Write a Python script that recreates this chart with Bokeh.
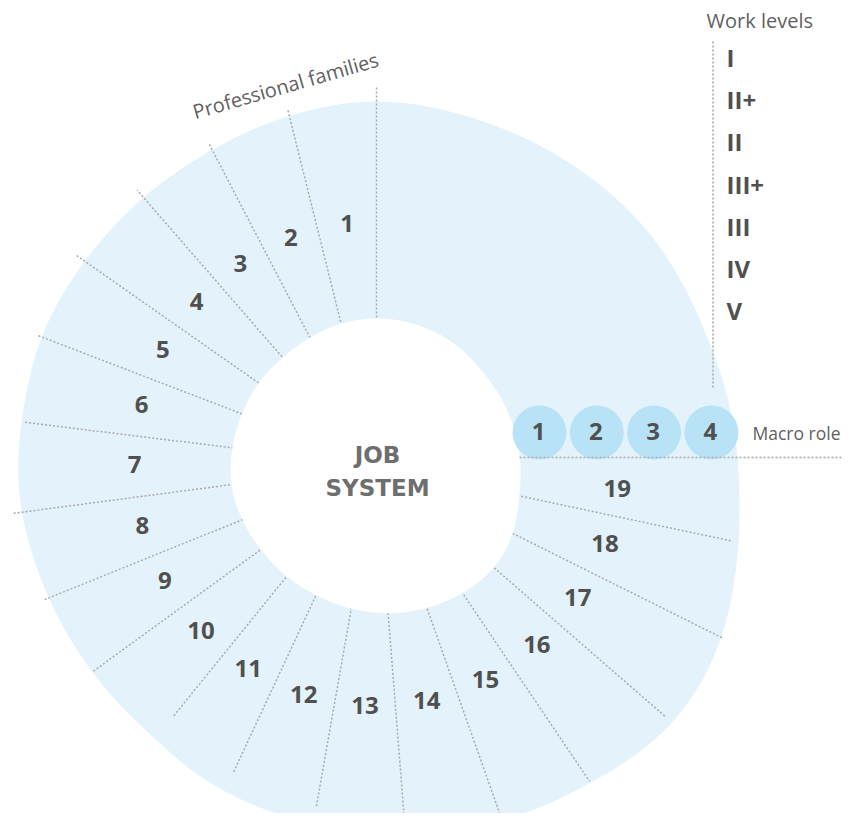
import numpy as np
from bokeh.plotting import figure
from bokeh.models import Range1d
from bokeh.core.properties import value
from bokeh.embed import file_html
from bokeh.resources import INLINE

# ---- data ----
families = [str(i) for i in range(1, 20)]
boundary_angles = [90, 104, 117.5, 131, 145, 159, 173, 187.5, 202, 216,
                   231, 245, 260, 274.5, 289.5, 304, 319, 333.5, 348]
boundary_lengths = [380, 368, 362, 365, 367, 363, 355, 368, 358, 352,
                    322, 338, 347, 356, 384, 381, 384, 386, 362]
macro_roles = ["1", "2", "3", "4"]
work_levels = ["I", "II+", "II", "III+", "III", "IV", "V"]

# ---- layout ----
CX, CY = 376, 465
LABEL_R = 242

outer_keys = [(11, 357.5), (20.7, 354), (31.3, 356), (40.9, 358.7), (55.3, 358.7),
              (73.2, 360), (90, 365), (96.8, 362.6), (107.5, 359), (118.4, 355),
              (131.7, 355), (145, 356), (157.9, 359), (171.6, 357), (182.4, 359),
              (202.5, 353), (216.3, 351), (229.9, 350.5), (240.6, 358), (252.4, 362),
              (257.9, 363), (273.8, 363.8), (284, 373), (294.5, 379), (303.6, 381.6),
              (312.8, 390), (322.1, 393), (333, 386), (347.2, 370), (357.6, 362)]
inner_keys = [(19.7, 142), (40.7, 141), (59.4, 145), (80.6, 147), (89.6, 147),
              (104.2, 146.5), (117.3, 144), (130.7, 142.5), (143.8, 143.8), (157.5, 144),
              (172.9, 145), (185.9, 146.8), (200, 145), (215.6, 142.6), (230.4, 142.8),
              (243.8, 142.7), (258.5, 145), (274.3, 148.4), (289.8, 151), (304.4, 154),
              (319.9, 156), (330.8, 153.6), (346, 146), (359, 144)]


def blob(keys, smooth=12):
    a = np.array([k[0] for k in keys])
    r = np.array([k[1] for k in keys])
    th = np.arange(0, 360, 0.5)
    rr = np.interp(th, a, r, period=360)
    w = int(smooth / 0.5)
    ker = np.ones(w) / w
    ext = np.concatenate([rr[-w:], rr, rr[:w]])
    rs = np.convolve(ext, ker, mode="same")[w:-w]
    t = np.radians(th)
    return CX + rs * np.cos(t), CY - rs * np.sin(t)


def polar(r, ang):
    t = np.radians(ang)
    return CX + r * np.cos(t), CY - r * np.sin(t)


DOT = dict(line_color="#a9a9a9", line_width=1.5, line_dash="2 2")

p = figure(width=843, height=813, x_range=Range1d(0, 843), y_range=Range1d(813, 0),
           output_backend="svg", toolbar_location=None, min_border=0)
p.axis.visible = False
p.grid.visible = False
p.outline_line_color = None
p.background_fill_color = "white"

# outer blob
ox, oy = blob(outer_keys)
p.patch(ox, oy, fill_color="#e4f3fb", line_color=None)

# radial dotted lines
xs, ys = [], []
for ang, ln in zip(boundary_angles, boundary_lengths):
    x1, y1 = polar(60, ang)
    x2, y2 = polar(ln, ang)
    xs.append([float(x1), float(x2)])
    ys.append([float(y1), float(y2)])
p.multi_line(xs, ys, **DOT)

# inner blob
ix, iy = blob(inner_keys, smooth=16)
p.patch(ix, iy, fill_color="white", line_color=None)

# family labels
mids = []
ext_angles = boundary_angles + [360]
for i in range(len(families)):
    mids.append((ext_angles[i] + ext_angles[i + 1]) / 2)
lx, ly = polar(LABEL_R, np.array(mids))
p.text(lx, ly - 2, text=families, text_align="center", text_baseline="middle",
       text_font=value("Open Sans"), text_font_style="bold", text_font_size="24px",
       text_color="#505050")

# macro role circles
mx = 539 + 57.3 * np.arange(len(macro_roles))
my = np.full(len(macro_roles), 432)
p.circle(mx, my, radius=27, fill_color="#b8e3f6", line_color=None)
p.text(mx - 1, my - 1, text=macro_roles, text_align="center", text_baseline="middle",
       text_font=value("Open Sans"), text_font_style="bold", text_font_size="24px",
       text_color="#505050")

# macro role line
p.line([519, 843], [457, 457], **DOT)
p.text([752], [432], text=["Macro role"], text_align="left", text_baseline="middle",
       text_font=value("Open Sans"), text_font_size="17.5px", text_color="#5f5f5f")

# work levels
p.line([712.5, 712.5], [41, 389], **DOT)
p.text([706], [20], text=["Work levels"], text_align="left", text_baseline="middle",
       text_font=value("Open Sans"), text_font_size="20px", text_color="#5f5f5f")
wy = 57 + 42.2 * np.arange(len(work_levels))
p.text(np.full(len(work_levels), 726), wy, text=work_levels, text_align="left",
       text_baseline="middle", text_font=value("Open Sans"), text_font_style="bold",
       text_font_size="24px", text_color="#505050")

# professional families
p.text([285], [85], text=["Professional families"], angle=16, angle_units="deg",
       text_align="center", text_baseline="middle", text_font=value("Open Sans"),
       text_font_size="20px", text_color="#5f5f5f")

# centre title
p.text([377, 377], [454, 487], text=["JOB", "SYSTEM"], text_align="center",
       text_baseline="middle", text_font=value("DejaVu Sans"), text_font_style="bold",
       text_font_size="23px", text_color="#6e6e6e")

open("out.html", "w").write(file_html(p, INLINE))
